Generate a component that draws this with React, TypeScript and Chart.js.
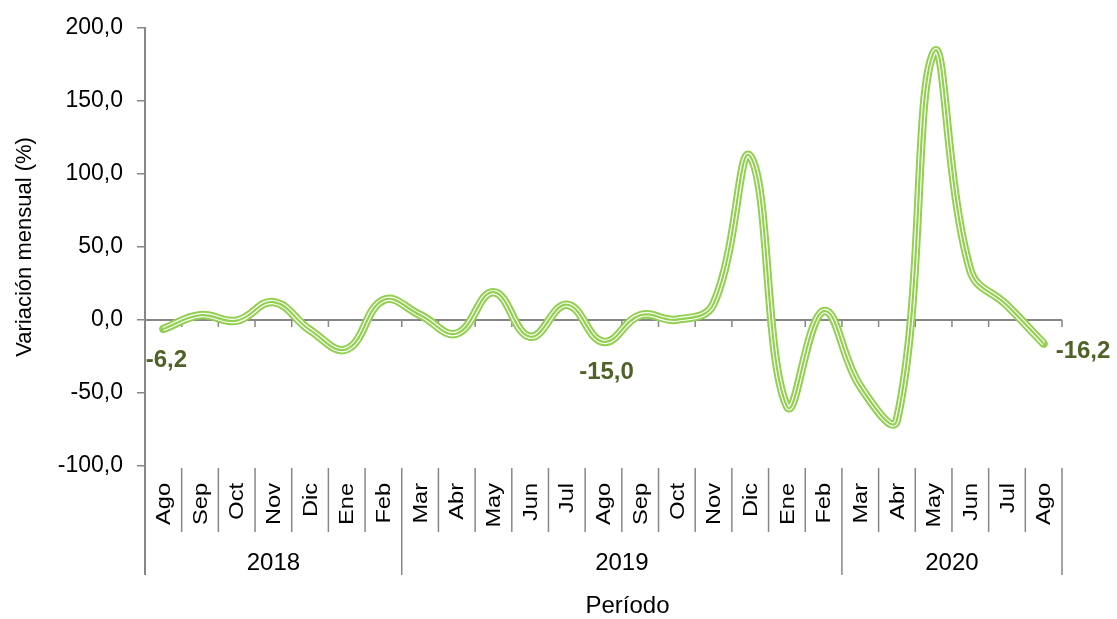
import React, { useEffect, useRef } from 'react';
import { Chart, registerables } from 'chart.js';

Chart.register(...registerables);

// ---- Data ----
const months: string[] = [
  'Ago', 'Sep', 'Oct', 'Nov', 'Dic', 'Ene', 'Feb',
  'Mar', 'Abr', 'May', 'Jun', 'Jul', 'Ago', 'Sep', 'Oct', 'Nov', 'Dic', 'Ene', 'Feb',
  'Mar', 'Abr', 'May', 'Jun', 'Jul', 'Ago',
];
const years: string[] = ['2018', '2019', '2020'];
const yearSpans: number[] = [7, 12, 6];
const values: number[] = [
  -6.2, 3.2, -0.5, 12.2, -7.0, -20.0, 13.6,
  3.4, -9.3, 19.0, -11.5, 10.4, -15.0, 3.2, 0.2, 11.0, 112.0, -59.0, 6.0,
  -45.5, -68.5, 183.0, 34.0, 10.0, -16.2,
];
const labeledPoints: number[] = [0, 12, 24];
const yMin = -100;
const yMax = 200;
const yStep = 50;

const yTitle = 'Variación mensual (%)';
const xTitle = 'Período';

// ---- Styles ----
const FONT = '"Liberation Sans", Arial, sans-serif';
const GREEN = '#92D050';
const LABEL_COLOR = '#4F6228';
const GRAY = '#878787';

const fmt = (v: number) => v.toFixed(1).replace('.', ',');

const axisPlugin = {
  id: 'customAxis',
  beforeDatasetsDraw(chart: any) {
    const { ctx, chartArea, scales } = chart;
    const x = scales.x;
    const y = scales.y;
    const y0 = y.getPixelForValue(0);
    const n = months.length;
    const half = (x.getPixelForValue(1) - x.getPixelForValue(0)) / 2;
    ctx.save();
    ctx.strokeStyle = GRAY;
    ctx.lineWidth = 2;
    ctx.beginPath();
    ctx.moveTo(chartArea.left, y0);
    ctx.lineTo(chartArea.right, y0);
    ctx.stroke();
    ctx.lineWidth = 1.5;
    ctx.beginPath();
    for (let k = 1; k <= n; k++) {
      const bx = x.getPixelForValue(k - 1) + half;
      ctx.moveTo(bx, y0);
      ctx.lineTo(bx, y0 + 7);
    }
    ctx.stroke();
    ctx.restore();
  },
  afterDraw(chart: any) {
    const { ctx, chartArea, scales } = chart;
    const x = scales.x;
    const bottom = chartArea.bottom;
    const n = months.length;
    const half = (x.getPixelForValue(1) - x.getPixelForValue(0)) / 2;
    const boundary = (k: number) =>
      k < n ? x.getPixelForValue(k) - half : x.getPixelForValue(n - 1) + half;

    ctx.save();
    ctx.strokeStyle = GRAY;
    ctx.lineWidth = 2;
    ctx.beginPath();
    ctx.moveTo(chartArea.left, bottom);
    ctx.lineTo(chartArea.left, bottom + 109);
    ctx.stroke();

    const yearBounds = new Set<number>([0]);
    let acc = 0;
    yearSpans.forEach((s) => {
      acc += s;
      yearBounds.add(acc);
    });

    ctx.lineWidth = 1.5;
    ctx.beginPath();
    for (let k = 1; k <= n; k++) {
      const bx = boundary(k);
      ctx.moveTo(bx, bottom + 2);
      ctx.lineTo(bx, yearBounds.has(k) ? bottom + 109 : bottom + 66);
    }
    ctx.stroke();

    // month labels, rotated
    ctx.fillStyle = '#000';
    ctx.font = `20.5px ${FONT}`;
    ctx.textAlign = 'right';
    ctx.textBaseline = 'middle';
    for (let i = 0; i < n; i++) {
      const cx = x.getPixelForValue(i);
      ctx.save();
      ctx.translate(cx + 1, bottom + 17);
      ctx.rotate(-Math.PI / 2);
      ctx.scale(1.15, 1);
      ctx.fillText(months[i], 0, 0);
      ctx.restore();
    }

    // year labels
    ctx.font = `24px ${FONT}`;
    ctx.textAlign = 'center';
    ctx.textBaseline = 'middle';
    let start = 0;
    years.forEach((yr, j) => {
      const end = start + yearSpans[j];
      const cx = (boundary(start) + boundary(end)) / 2;
      ctx.fillText(yr, cx, bottom + 97);
      start = end;
    });

    // x title
    ctx.font = `24px ${FONT}`;
    ctx.fillText(xTitle, (chartArea.left + chartArea.right) / 2 + 24, bottom + 140);
    ctx.restore();
  },
};

const labelPlugin = {
  id: 'valueLabels',
  afterDatasetsDraw(chart: any) {
    const { ctx } = chart;
    const meta = chart.getDatasetMeta(0);
    ctx.save();
    ctx.font = `bold 24px ${FONT}`;
    ctx.fillStyle = LABEL_COLOR;
    ctx.textBaseline = 'middle';
    labeledPoints.forEach((i) => {
      const pt = meta.data[i];
      const text = fmt(values[i]);
      if (i === values.length - 1) {
        ctx.textAlign = 'left';
        ctx.fillText(text, pt.x + 12, pt.y + 8);
      } else {
        ctx.textAlign = 'center';
        ctx.fillText(text, pt.x + 3, pt.y + 31);
      }
    });
    ctx.restore();
  },
};

export default function App() {
  const canvasRef = useRef<HTMLCanvasElement | null>(null);

  useEffect(() => {
    document.body.style.margin = '0';
    const canvas = canvasRef.current;
    if (!canvas) return;
    const lineCommon = {
      pointRadius: 0,
      pointHoverRadius: 0,
      tension: 0.42,
      fill: false,
      borderJoinStyle: 'round' as const,
    };
    const chart = new Chart(canvas, {
      type: 'line',
      data: {
        labels: months,
        datasets: [
          { ...lineCommon, data: [...values], order: 2, borderColor: GREEN, borderWidth: 8.5, borderCapStyle: 'round' },
          { ...lineCommon, data: [...values], order: 1, borderColor: '#ffffff', borderWidth: 4.5, borderCapStyle: 'butt' },
          { ...lineCommon, data: [...values], order: 0, borderColor: GREEN, borderWidth: 2.2, borderCapStyle: 'butt' },
        ],
      },
      options: {
        responsive: false,
        animation: false,
        devicePixelRatio: 1,
        layout: { padding: { left: 0, top: 24, right: 55, bottom: 153 } },
        plugins: {
          legend: { display: false },
          tooltip: { enabled: false },
        },
        scales: {
          x: {
            type: 'category',
            offset: true,
            display: false,
          },
          y: {
            min: yMin,
            max: yMax,
            afterFit: (scale: any) => {
              scale.width = 145;
            },
            ticks: {
              stepSize: yStep,
              color: '#000',
              font: { family: FONT, size: 23 },
              padding: 14,
              callback: (v: any) => fmt(Number(v)),
            },
            grid: {
              drawOnChartArea: false,
              drawTicks: true,
              tickLength: 8,
              color: GRAY,
              lineWidth: 1.5,
            },
            border: { display: true, color: GRAY, width: 2 },
            title: {
              display: true,
              text: yTitle,
              color: '#000',
              font: { family: FONT, size: 22 },
              padding: { top: 12, bottom: 0 },
            },
          },
        },
      },
      plugins: [axisPlugin, labelPlugin],
    });
    return () => chart.destroy();
  }, []);

  return (
    <div style={{ width: 1117, height: 619, background: '#fff' }}>
      <canvas ref={canvasRef} width={1117} height={619} style={{ display: 'block' }} />
    </div>
  );
}
